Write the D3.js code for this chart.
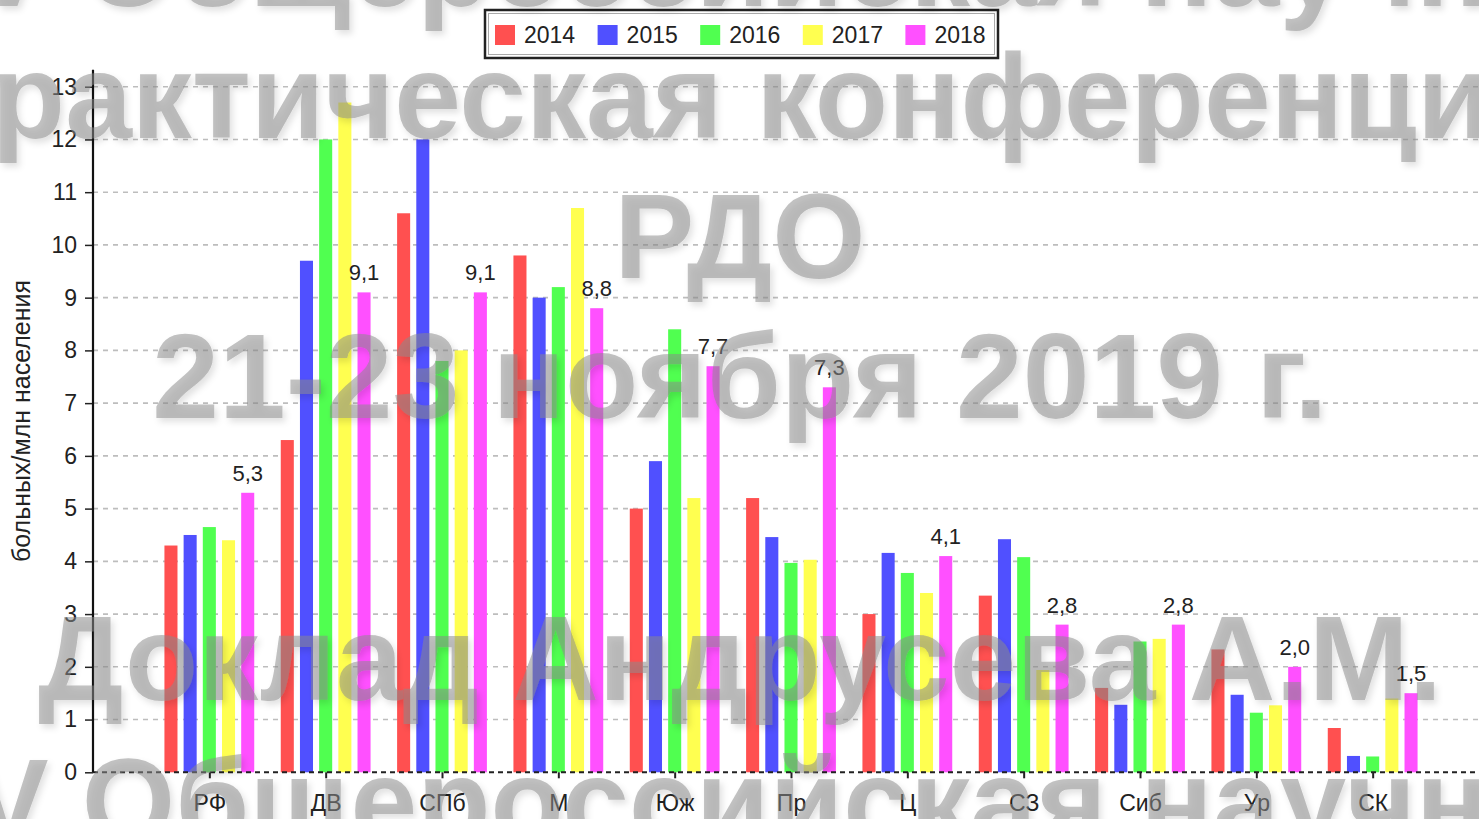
<!DOCTYPE html>
<html><head><meta charset="utf-8">
<script src="https://cdn.jsdelivr.net/npm/d3@7"></script>
<style>
html,body{margin:0;padding:0;background:#fff;overflow:hidden;}
svg{display:block;}
text{font-family:"Liberation Sans",Arial,Helvetica,sans-serif;}
</style></head>
<body>
<svg id="chart" width="1479" height="819"></svg>
<script>
const categories = ["РФ","ДВ","СПб","М","Юж","Пр","Ц","СЗ","Сиб","Ур","СК"];
const years = ["2014","2015","2016","2017","2018"];
const v2014 = [4.3, 6.3, 10.6, 9.8, 5.0, 5.2, 3.0, 3.35, 1.6, 2.33, 0.84];
const v2015 = [4.5, 9.7, 12.0, 9.0, 5.9, 4.46, 4.16, 4.42, 1.28, 1.47, 0.31];
const v2016 = [4.65, 12.0, 7.8, 9.2, 8.4, 3.97, 3.78, 4.08, 2.48, 1.13, 0.3];
const v2017 = [4.4, 12.7, 8.0, 10.7, 5.2, 4.03, 3.4, 1.94, 2.53, 1.27, 1.4];
const v2018 = [5.3, 9.1, 9.1, 8.8, 7.7, 7.3, 4.1, 2.8, 2.8, 2.0, 1.5];
const colors = ["#ff5050","#5050ff","#50ff50","#ffff50","#ff50ff"];
const yTicks = [0,1,2,3,4,5,6,7,8,9,10,11,12,13];
const yTitle = "больных/млн населения";
const watermarkLines = [
  "V Общероссийская научно-",
  "практическая конференция",
  "РДО",
  "21-23 ноября 2019 г.",
  "Доклад Андрусева А.М.",
  "V Общероссийская научно-"
];
const watermarkBaselines = [6, 138, 278, 418, 700, 843];
const watermarkCenters = [785, 740, 740, 740, 740, 785];

const series = [v2014, v2015, v2016, v2017, v2018];
const svg = d3.select("#chart");

const x0 = d3.scalePoint().domain(categories).range([93, 1489]).padding(1);
const x1 = d3.scaleBand().domain(years).range([-44.9, 44.9]).paddingInner(0.32);
const y = d3.scaleLinear().domain([0, 13]).range([772.3, 86.7]);
const fmt = v => d3.format(".1f")(v).replace(".", ",");

// gridlines
svg.append("g").selectAll("line").data(yTicks.filter(t => t > 0)).join("line")
  .attr("x1", 93).attr("x2", 1479)
  .attr("y1", d => y(d)).attr("y2", d => y(d))
  .attr("stroke", "#bdbdbd").attr("stroke-width", 1.6).attr("stroke-dasharray", "5,5");

// bars
const groups = svg.append("g").selectAll("g").data(categories).join("g")
  .attr("transform", d => `translate(${x0(d)},0)`);
groups.selectAll("rect").data((c, i) => years.map((yr, k) => ({yr, k, v: series[k][i]}))).join("rect")
  .attr("x", d => x1(d.yr)).attr("width", x1.bandwidth())
  .attr("y", d => y(d.v)).attr("height", d => y(0) - y(d.v))
  .attr("fill", d => colors[d.k]);

// value labels on 2018
groups.append("text")
  .attr("x", x1("2018") + x1.bandwidth() / 2)
  .attr("y", (c, i) => y(v2018[i]) - 12)
  .attr("text-anchor", "middle").attr("font-size", 22).attr("fill", "#222")
  .text((c, i) => fmt(v2018[i]));

// zero line dashed
svg.append("line").attr("x1", 93).attr("x2", 1479).attr("y1", y(0)).attr("y2", y(0))
  .attr("stroke", "#222").attr("stroke-width", 2).attr("stroke-dasharray", "5,4");

// y axis
const yAxis = svg.append("g").attr("transform", "translate(93,0)")
  .call(d3.axisLeft(y).tickValues(yTicks).tickSize(8).tickPadding(8).tickFormat(d3.format("d")));
yAxis.select(".domain").remove();
yAxis.selectAll(".tick line").attr("stroke", "#222").attr("stroke-width", 1.5);
yAxis.selectAll(".tick text").attr("font-size", 23).attr("fill", "#222")
  .style("font-family", '"Liberation Sans",Arial,sans-serif');
svg.append("line").attr("x1", 93).attr("x2", 93).attr("y1", y(13.32)).attr("y2", y(0))
  .attr("stroke", "#111").attr("stroke-width", 2.2);

// x axis
const xAxis = svg.append("g").attr("transform", `translate(0,${y(0)})`)
  .call(d3.axisBottom(x0).tickSize(6).tickPadding(16));
xAxis.select(".domain").remove();
xAxis.selectAll(".tick line").attr("stroke", "#222").attr("stroke-width", 2);
xAxis.selectAll(".tick text").attr("font-size", 23).attr("fill", "#222")
  .style("font-family", '"Liberation Sans",Arial,sans-serif');

// y title
svg.append("text").attr("transform", "translate(30,421) rotate(-90)")
  .attr("text-anchor", "middle").attr("font-size", 25).attr("fill", "#222").text(yTitle);

// legend
const lg = svg.append("g");
lg.append("rect").attr("x", 485).attr("y", 10).attr("width", 513).attr("height", 48)
  .attr("fill", "#fff").attr("stroke", "#222").attr("stroke-width", 2.5);
lg.append("rect").attr("x", 488.5).attr("y", 13.5).attr("width", 506).attr("height", 41)
  .attr("fill", "none").attr("stroke", "#aaa").attr("stroke-width", 1);
const li = lg.selectAll("g.item").data(years).join("g").attr("class", "item")
  .attr("transform", (d, i) => `translate(${495 + i * 102.6},0)`);
li.append("rect").attr("x", 0).attr("y", 25).attr("width", 20).attr("height", 20)
  .attr("fill", (d, i) => colors[i]);
li.append("text").attr("x", 29).attr("y", 43).attr("font-size", 23).attr("fill", "#222").text(d => d);

// watermark
const defs = svg.append("defs");
const f = defs.append("filter").attr("id", "wmShadow").attr("x", "-5%").attr("y", "-20%")
  .attr("width", "110%").attr("height", "140%");
f.append("feDropShadow").attr("dx", 3).attr("dy", 4).attr("stdDeviation", 3)
  .attr("flood-color", "#000").attr("flood-opacity", 0.22);
svg.append("g").attr("filter", "url(#wmShadow)").selectAll("text").data(watermarkLines).join("text")
  .attr("x", (d, i) => watermarkCenters[i]).attr("y", (d, i) => watermarkBaselines[i])
  .attr("text-anchor", "middle").attr("font-size", 120).attr("font-weight", "bold")
  .attr("fill", "#8a8a8a").attr("fill-opacity", 0.52)
  .text(d => d);
</script>
</body></html>
